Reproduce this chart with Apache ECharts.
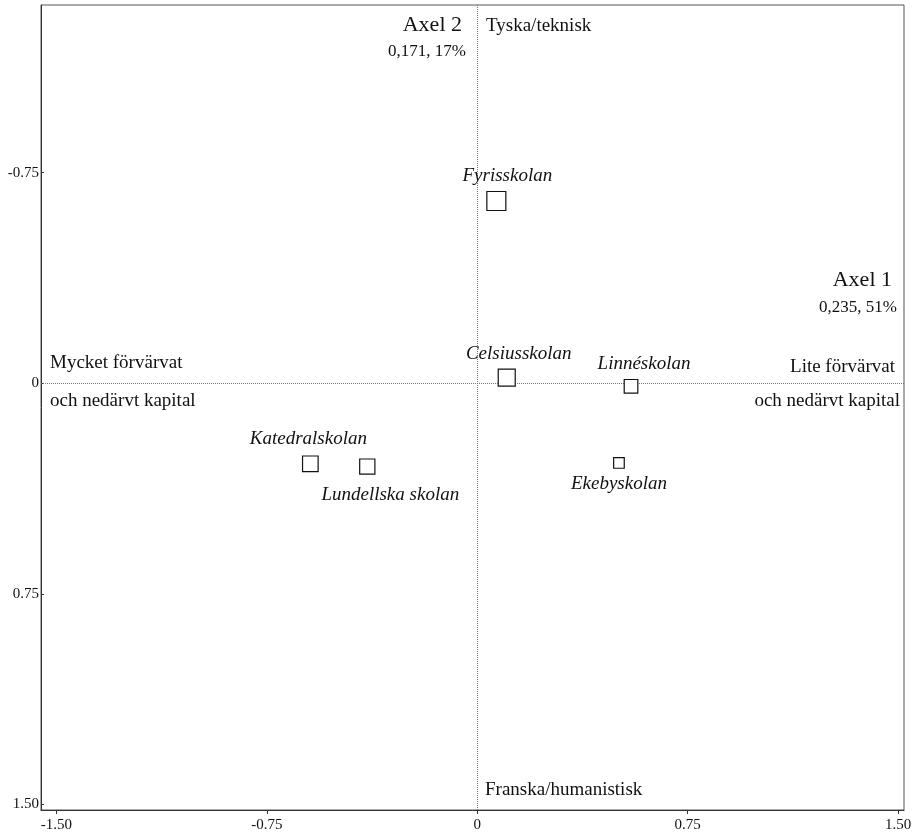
<!DOCTYPE html>
<html>
<head>
<meta charset="utf-8">
<script src="https://cdn.jsdelivr.net/npm/echarts@6/dist/echarts.min.js"></script>
<style>
html,body{margin:0;padding:0;background:#fff;}
#chart{width:918px;height:835px;}
</style>
</head>
<body>
<div id="chart"></div>
<script>
// ---- data ----
const schools = ['Fyrisskolan','Celsiusskolan','Linnéskolan','Ekebyskolan','Katedralskolan','Lundellska skolan'];
const axis1Values = [0.068, 0.105, 0.548, 0.505, -0.595, -0.392];
const axis2Values = [-0.649, -0.020, 0.011, 0.284, 0.287, 0.297];
const schoolWeights = [1.0, 0.9, 0.73, 0.58, 0.83, 0.81];
const xTickValues = [-1.5, -0.75, 0, 0.75, 1.5];
const xTickLabels = ['-1.50', '-0.75', '0', '0.75', '1.50'];
const yTickValues = [-0.75, 0, 0.75, 1.5];
const yTickLabels = ['-0.75', '0', '0.75', '1.50'];

// ---- layout / style ----
const SERIF = '"Liberation Serif", "DejaVu Serif", serif';
const labelLayout = [
  {position: 'top', distance: 5, offset: [11, 0]},
  {position: 'top', distance: 5, offset: [12, 0]},
  {position: 'top', distance: 5, offset: [13, 0]},
  {position: 'bottom', distance: 6, offset: [0, 0]},
  {position: 'top', distance: 5, offset: [-2, -2]},
  {position: 'bottom', distance: 6, offset: [23, 5]}
];

const seriesData = schools.map((name, i) => ({
  name: name,
  value: [axis1Values[i], axis2Values[i], schoolWeights[i]],
  label: labelLayout[i]
}));

const chart = echarts.init(document.getElementById('chart'), null, {renderer: 'canvas'});

function textEl(text, x, y, size, align, italic) {
  return {
    type: 'text',
    silent: true,
    style: {
      text: text, x: x, y: y,
      font: (italic ? 'italic ' : '') + size + 'px ' + SERIF,
      fill: '#111',
      align: align,
      verticalAlign: 'middle'
    }
  };
}

const option = {
  animation: false,
  backgroundColor: '#fff',
  grid: {
    left: 41, right: 14, top: 5, bottom: 25,
    show: true, borderColor: '#555', borderWidth: 1,
    outerBoundsMode: 'none', containLabel: false
  },
  xAxis: {
    type: 'value',
    min: -1.555, max: 1.521,
    splitLine: {show: false},
    axisLine: {show: true, onZero: false, lineStyle: {color: '#333', width: 1}},
    axisTick: {show: true, customValues: xTickValues, length: 4, lineStyle: {color: '#333'}},
    axisLabel: {
      customValues: xTickValues, margin: 8,
      fontFamily: SERIF, fontSize: 15, color: '#111',
      formatter: v => { const i = xTickValues.findIndex(t => Math.abs(t - v) < 1e-9); return i >= 0 ? xTickLabels[i] : ''; }
    }
  },
  yAxis: {
    type: 'value',
    inverse: true,
    min: -1.347, max: 1.52,
    splitLine: {show: false},
    axisLine: {show: true, onZero: false, lineStyle: {color: '#333', width: 1}},
    axisTick: {show: true, inside: true, customValues: yTickValues, length: 3, lineStyle: {color: '#333'}},
    axisLabel: {
      customValues: yTickValues, margin: 2,
      padding: [6, 0, 0, 0],
      fontFamily: SERIF, fontSize: 15, color: '#111',
      formatter: v => { const i = yTickValues.findIndex(t => Math.abs(t - v) < 1e-9); return i >= 0 ? yTickLabels[i] : ''; }
    }
  },
  series: [{
    type: 'scatter',
    symbol: 'rect',
    symbolSize: v => 20 * v[2] - 1,
    itemStyle: {color: '#fff', borderColor: '#111', borderWidth: 1.2, opacity: 1},
    label: {
      show: true,
      formatter: p => p.name,
      fontFamily: SERIF, fontStyle: 'italic', fontSize: 19, color: '#111'
    },
    data: seriesData,
    z: 3,
    markLine: {
      silent: true,
      symbol: ['none', 'none'],
      label: {show: false},
      lineStyle: {type: 'dotted', color: '#777', width: 1},
      data: [{xAxis: 0}, {yAxis: 0}],
      z: 1
    }
  }],
  graphic: [
    textEl('Axel 2', 462, 25, 22, 'right'),
    textEl('0,171, 17%', 466, 52, 17, 'right'),
    textEl('Tyska/teknisk', 486, 26, 19, 'left'),
    textEl('Franska/humanistisk', 485, 790, 19, 'left'),
    textEl('Axel 1', 892, 280, 22, 'right'),
    textEl('0,235, 51%', 897, 308, 17, 'right'),
    textEl('Lite förvärvat', 895, 367, 19, 'right'),
    textEl('och nedärvt kapital', 900, 401, 19, 'right'),
    textEl('Mycket förvärvat', 50, 363, 19, 'left'),
    textEl('och nedärvt kapital', 50, 401, 19, 'left')
  ]
};
chart.setOption(option);
</script>
</body>
</html>
